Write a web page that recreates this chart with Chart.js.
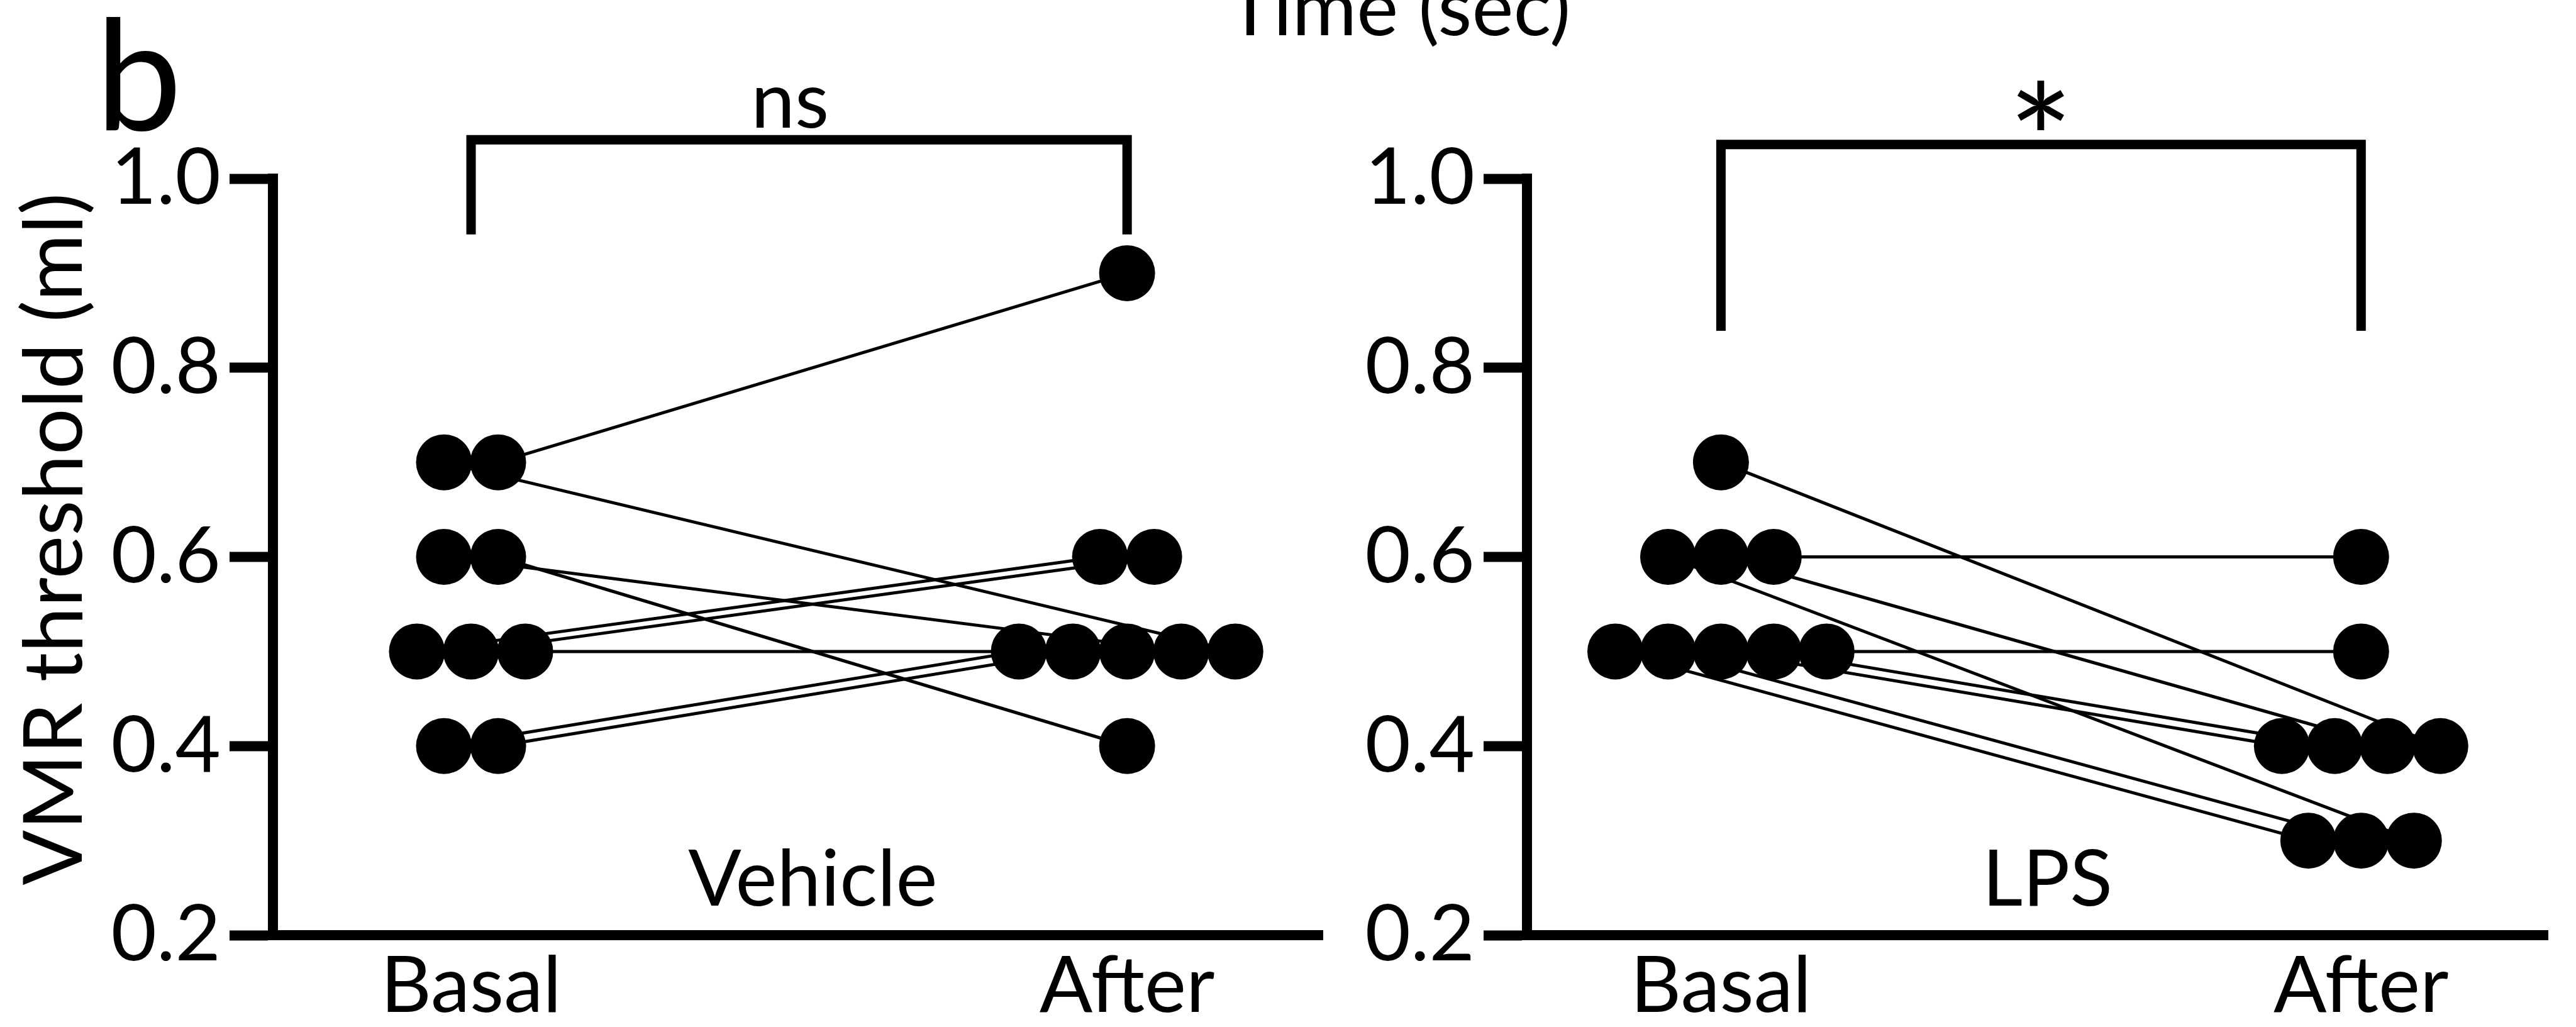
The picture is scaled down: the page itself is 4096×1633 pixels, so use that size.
<!DOCTYPE html>
<html>
<head>
<meta charset="utf-8">
<title>VMR threshold: Vehicle vs LPS</title>
<script src="https://cdn.jsdelivr.net/npm/chart.js@4.4.1/dist/chart.umd.min.js"></script>
<style>
  html, body { margin: 0; padding: 0; background: #fff; overflow: hidden; }
  #figure { position: relative; width: 4096px; height: 1633px; }
  #figure canvas { position: absolute; left: 0; top: 0; }
</style>
</head>
<body>
<div id="figure">
  <canvas id="vehicleChart" width="4096" height="1633"></canvas>
  <canvas id="lpsChart" width="4096" height="1633"></canvas>
</div>
<script>
// ---- data (one entry per animal, same order in basal / after) ----
const categories = ['Basal', 'After'];
const yTicks = [0.2, 0.4, 0.6, 0.8, 1.0];

const vehicleBasal = [0.4, 0.4, 0.5, 0.5, 0.5, 0.6, 0.6, 0.7, 0.7];
const vehicleAfter = [0.5, 0.5, 0.6, 0.6, 0.5, 0.5, 0.4, 0.5, 0.9];

const lpsBasal = [0.5, 0.5, 0.5, 0.5, 0.5, 0.6, 0.6, 0.6, 0.7];
const lpsAfter = [0.3, 0.3, 0.4, 0.4, 0.5, 0.3, 0.4, 0.6, 0.4];

const BLACK = '#000000';
const FONT = 'Lato';
const TEXT_SIZE = 125;

// tied values are set side by side, centred on the category (x units)
const dotGap = 0.0825;
function spread(values) {
    const groups = new Map();
    values.forEach((v, i) => {
        if (!groups.has(v)) groups.set(v, []);
        groups.get(v).push(i);
    });
    const offsets = new Array(values.length);
    groups.forEach(idx => {
        idx.forEach((i, k) => { offsets[i] = (k - (idx.length - 1) / 2) * dotGap; });
    });
    return offsets;
}

function buildDatasets(basal, after) {
    const ob = spread(basal);
    const oa = spread(after);
    const lines = basal.map((b, i) => ({
        showLine: true,
        order: 1,
        data: [{ x: 0 + ob[i], y: b }, { x: 1 + oa[i], y: after[i] }],
        borderColor: BLACK,
        borderWidth: 5,
        pointRadius: 0,
        pointHoverRadius: 0,
        clip: false
    }));
    const dots = {
        order: 0,
        data: basal.map((b, i) => ({ x: 0 + ob[i], y: b }))
            .concat(after.map((a, i) => ({ x: 1 + oa[i], y: a }))),
        backgroundColor: BLACK,
        borderWidth: 0,
        pointRadius: 44.5,
        pointHoverRadius: 44.5,
        clip: false
    };
    return lines.concat([dots]);
}

// text placed by its ink box (cx = ink centre, baseline in px)
function inkText(ctx, text, size, cx, baseline) {
    ctx.font = size + 'px ' + FONT;
    ctx.textAlign = 'left';
    ctx.textBaseline = 'alphabetic';
    const m = ctx.measureText(text);
    const w = m.actualBoundingBoxLeft + m.actualBoundingBoxRight;
    ctx.fillText(text, cx - w / 2 + m.actualBoundingBoxLeft, baseline);
}

// ---- annotations: bracket, significance, group name, panel texts ----
const annotate = {
    id: 'annotate',
    afterDraw(chart, args, opts) {
        const ctx = chart.ctx;
        const xs = chart.scales.x;
        const ys = chart.scales.y;
        const area = chart.chartArea;
        ctx.save();
        ctx.fillStyle = BLACK;
        ctx.strokeStyle = BLACK;

        // close the axis corner
        ctx.fillRect(area.left - 8, area.bottom - 8, 16, 16);

        // comparison bracket
        const xl = xs.getPixelForValue(0);
        const xr = xs.getPixelForValue(1);
        const yt = ys.getPixelForValue(opts.bracketTop);
        const yb = ys.getPixelForValue(opts.bracketFoot);
        ctx.lineWidth = 15;
        ctx.lineJoin = 'miter';
        ctx.lineCap = 'butt';
        ctx.beginPath();
        ctx.moveTo(xl, yb);
        ctx.lineTo(xl, yt);
        ctx.lineTo(xr, yt);
        ctx.lineTo(xr, yb);
        ctx.stroke();

        // significance mark
        const xm = xs.getPixelForValue(opts.sigX);
        if (opts.sig === '*') {
            ctx.font = '100px ' + FONT;
            const m = ctx.measureText('*');
            const h = m.actualBoundingBoxAscent + m.actualBoundingBoxDescent;
            const size = 100 * 81 / h;
            ctx.font = size + 'px ' + FONT;
            const m2 = ctx.measureText('*');
            const base = yt - 62 + (m2.actualBoundingBoxAscent - m2.actualBoundingBoxDescent) / 2;
            inkText(ctx, '*', size, xm, base);
        } else {
            inkText(ctx, opts.sig, TEXT_SIZE, xm, yt - 19);
        }

        // group name
        inkText(ctx, opts.group, TEXT_SIZE, xs.getPixelForValue(opts.groupX), area.bottom - 47);

        if (opts.panelTexts) {
            // panel letter
            ctx.font = '245px ' + FONT;
            const mb = ctx.measureText('b');
            ctx.textAlign = 'left';
            ctx.fillText('b', 169 + mb.actualBoundingBoxLeft, 207);

            // title of the panel above (cut at the top edge)
            inkText(ctx, 'Time (sec)', TEXT_SIZE, 2222, 56);

            // y axis title
            ctx.save();
            ctx.translate(130, 860);
            ctx.rotate(-Math.PI / 2);
            inkText(ctx, 'VMR threshold (ml)', 130, 0, 0);
            ctx.restore();
        }
        ctx.restore();
    }
};

function makeChart(id, basal, after, area, marks) {
    return new Chart(document.getElementById(id), {
        type: 'scatter',
        data: { datasets: buildDatasets(basal, after) },
        plugins: [annotate],
        options: {
            responsive: false,
            devicePixelRatio: 1,
            animation: false,
            events: [],
            layout: { padding: { top: 284, left: area.left - 434, right: 4096 - area.right, bottom: 0 } },
            plugins: {
                legend: { display: false },
                tooltip: { enabled: false },
                annotate: marks
            },
            scales: {
                x: {
                    type: 'linear',
                    min: area.xMin,
                    max: area.xMax,
                    afterBuildTicks: s => { s.ticks = categories.map((c, i) => ({ value: i })); },
                    afterFit: s => { s.height = 146; },
                    ticks: {
                        autoSkip: false,
                        maxRotation: 0,
                        padding: 7,
                        color: BLACK,
                        font: { family: FONT, size: TEXT_SIZE },
                        callback: (v, i) => categories[i]
                    },
                    grid: { display: false, drawTicks: false },
                    border: { display: true, color: BLACK, width: 16 }
                },
                y: {
                    type: 'linear',
                    min: 0.2,
                    max: 1.0,
                    afterBuildTicks: s => { s.ticks = yTicks.map(v => ({ value: v })); },
                    afterFit: s => { s.width = 434; },
                    ticks: {
                        padding: 14,
                        color: BLACK,
                        font: { family: FONT, size: TEXT_SIZE },
                        callback: v => v.toFixed(1)
                    },
                    grid: {
                        drawOnChartArea: false,
                        drawTicks: true,
                        tickLength: 69,
                        tickWidth: 16,
                        tickColor: BLACK
                    },
                    border: { display: true, color: BLACK, width: 16 }
                }
            }
        }
    });
}

makeChart('vehicleChart', vehicleBasal, vehicleAfter,
    { left: 434, right: 2103, xMin: -0.302, xMax: 1.298 },
    { sig: 'ns', sigX: 0.488, group: 'Vehicle', groupX: 0.519,
      bracketTop: 1.041, bracketFoot: 0.941, panelTexts: true });

makeChart('lpsChart', lpsBasal, lpsAfter,
    { left: 2428, right: 4096, xMin: -0.303, xMax: 1.292 },
    { sig: '*', sigX: 0.5, group: 'LPS', groupX: 0.513,
      bracketTop: 1.036, bracketFoot: 0.839, panelTexts: false });
</script>
</body>
</html>
